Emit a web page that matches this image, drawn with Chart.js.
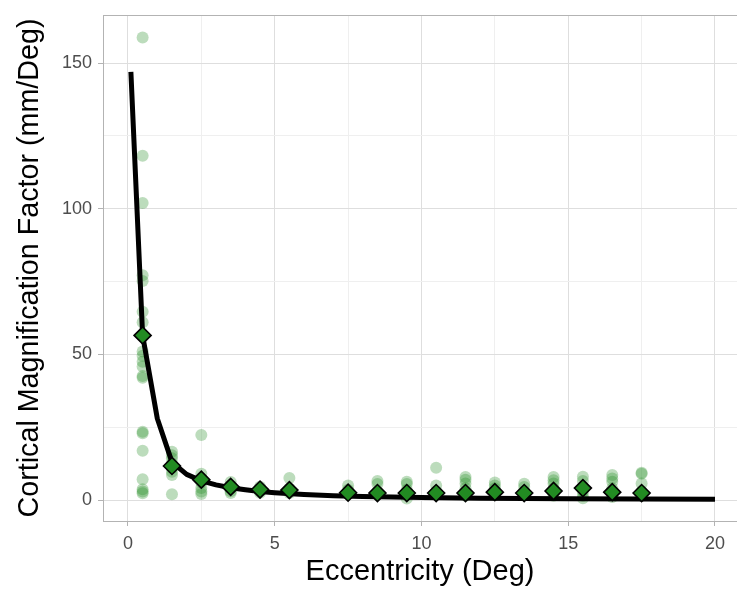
<!DOCTYPE html>
<html>
<head>
<meta charset="utf-8">
<script src="https://cdn.jsdelivr.net/npm/chart.js@4/dist/chart.umd.min.js"></script>
<style>
  html, body { margin: 0; padding: 0; background: #fff; }
  #wrap { width: 737px; height: 589px; }
</style>
</head>
<body>
<div id="wrap"><canvas id="cmfChart"></canvas></div>
<script>
// eccentricity bins (deg) and the per-subject CMF values measured in each bin
const eccBins = [0.5, 1.5, 2.5, 3.5, 4.5, 5.5, 7.5, 8.5, 9.5, 10.5, 11.5, 12.5, 13.5, 14.5, 15.5, 16.5, 17.5];
const cmfPerBin = [
    [158.8, 118.2, 102, 77.2, 75.2, 64.6, 61, 51, 49.5, 47.5, 45.8, 42.6, 42, 23.4, 22.9, 16.9, 7.1, 3.7, 2.9, 2.3],
    [16.6, 15.4, 14.3, 12.5, 11, 9.7, 8.6, 2.0],
    [22.3, 9, 7.5, 6, 4.1, 2.9, 2.1],
    [6.2, 5, 4, 3, 2.4],
    [4.6, 3.8, 3, 2.5],
    [7.6, 4, 3, 2.4],
    [5, 3.5, 2.8, 2],
    [6.5, 5.5, 3, 2.2, 1.8],
    [6.3, 5.5, 3.5, 2, 0.5],
    [11.1, 5, 3, 2],
    [7.9, 7, 5.7, 4, 2.5, 1.5],
    [6, 5, 4, 2.6, 1.7],
    [5.6, 4.5, 3, 2],
    [7.9, 6.8, 5.7, 4, 2.5, 1.5],
    [8, 6.5, 4.5, 3, 1.5, 0.6],
    [8.6, 7.4, 6.3, 4, 2, 1],
    [9.4, 9.0, 5.7, 3, 1.5]
];
// summary value per bin
const cmfSummary = [56.5, 11.7, 7.0, 4.5, 3.6, 3.4, 2.5, 2.4, 2.4, 2.4, 2.4, 2.7, 2.4, 3.1, 4.1, 2.7, 2.4];

// fitted curve
const fitEcc = [0.1, 0.5, 1, 1.5, 2, 2.5, 3, 3.5, 4, 4.5, 5, 6, 7, 8, 10, 12, 15, 20];
const fitCmf = [147, 56.5, 28, 13, 8.8, 6.6, 5.2, 4.2, 3.5, 2.9, 2.5, 1.9, 1.5, 1.2, 0.85, 0.65, 0.45, 0.3];

const xTicks = [0, 2.5, 5, 7.5, 10, 12.5, 15, 17.5, 20];
const yTicks = [0, 25, 50, 75, 100, 125, 150];

const scatterPts = [];
eccBins.forEach((ecc, i) => {
    cmfPerBin[i].forEach(v => scatterPts.push({ x: ecc, y: v }));
});
const summaryPts = eccBins.map((ecc, i) => ({ x: ecc, y: cmfSummary[i] }));
const fitPts = fitEcc.map((ecc, i) => ({ x: ecc, y: fitCmf[i] }));

const FONT = '"Liberation Sans", Arial, sans-serif';
const isMajor = (v, step) => Math.abs(v / step - Math.round(v / step)) < 1e-6;

// panel outline (top/right edges are not drawn by the scales)
const panelBorder = {
    id: 'panelBorder',
    afterDatasetsDraw(chart) {
        const a = chart.chartArea;
        const ctx = chart.ctx;
        ctx.save();
        ctx.strokeStyle = '#b3b3b3';
        ctx.lineWidth = 1;
        ctx.strokeRect(a.left + 0.5, a.top + 0.5, a.right - a.left, a.bottom - a.top);
        ctx.restore();
    }
};

const ctx = document.getElementById('cmfChart').getContext('2d');
new Chart(ctx, {
    type: 'scatter',
    data: {
        datasets: [
            {
                label: 'Summary',
                data: summaryPts,
                pointStyle: 'rectRot',
                pointRadius: 8.5,
                backgroundColor: '#228B22',
                borderColor: '#000000',
                borderWidth: 1.6,
                showLine: false
            },
            {
                label: 'Fit',
                data: fitPts,
                showLine: true,
                borderColor: '#000000',
                borderWidth: 5,
                pointRadius: 0,
                tension: 0,
                borderJoinStyle: 'round'
            },
            {
                label: 'Subjects',
                data: scatterPts,
                pointRadius: 6,
                backgroundColor: 'rgba(34, 139, 34, 0.3)',
                borderWidth: 0
            }
        ]
    },
    options: {
        responsive: true,
        maintainAspectRatio: false,
        animation: false,
        layout: {
            autoPadding: false,
            padding: { top: 15, right: 0, left: 0, bottom: 0 }
        },
        plugins: {
            legend: { display: false },
            tooltip: { enabled: false }
        },
        scales: {
            x: {
                type: 'linear',
                min: -0.85,
                max: 20.75,
                afterBuildTicks: scale => { scale.ticks = xTicks.map(v => ({ value: v })); },
                afterFit: scale => {
                    scale.height = 68;
                    scale.paddingLeft = 0;
                    scale.paddingRight = 0;
                },
                border: { display: true, color: '#b3b3b3', width: 1 },
                grid: {
                    color: c => isMajor(c.tick.value, 5) ? '#dedede' : '#efefef',
                    lineWidth: 1,
                    tickLength: 5,
                    tickColor: c => isMajor(c.tick.value, 5) ? '#b3b3b3' : 'rgba(0,0,0,0)'
                },
                ticks: {
                    color: '#4d4d4d',
                    font: { family: FONT, size: 18 },
                    padding: 7,
                    maxRotation: 0,
                    callback: v => isMajor(v, 5) ? String(v) : ''
                },
                title: {
                    display: true,
                    text: 'Eccentricity (Deg)',
                    color: '#000000',
                    font: { family: FONT, size: 29 },
                    padding: { top: 0, bottom: 0 }
                }
            },
            y: {
                type: 'linear',
                min: -7.2,
                max: 166.5,
                afterBuildTicks: scale => { scale.ticks = yTicks.map(v => ({ value: v })); },
                afterFit: scale => {
                    scale.width = 103;
                    scale.paddingTop = 0;
                    scale.paddingBottom = 0;
                },
                border: { display: true, color: '#b3b3b3', width: 1 },
                grid: {
                    color: c => isMajor(c.tick.value, 50) ? '#dedede' : '#efefef',
                    lineWidth: 1,
                    tickLength: 5,
                    tickColor: c => isMajor(c.tick.value, 50) ? '#b3b3b3' : 'rgba(0,0,0,0)'
                },
                ticks: {
                    color: '#4d4d4d',
                    font: { family: FONT, size: 18 },
                    padding: 6,
                    callback: v => isMajor(v, 50) ? String(v) : ''
                },
                title: {
                    display: true,
                    text: 'Cortical Magnification Factor (mm/Deg)',
                    color: '#000000',
                    font: { family: FONT, size: 28.7 },
                    padding: { top: 13, bottom: 0 }
                }
            }
        }
    },
    plugins: [panelBorder]
});
</script>
</body>
</html>
